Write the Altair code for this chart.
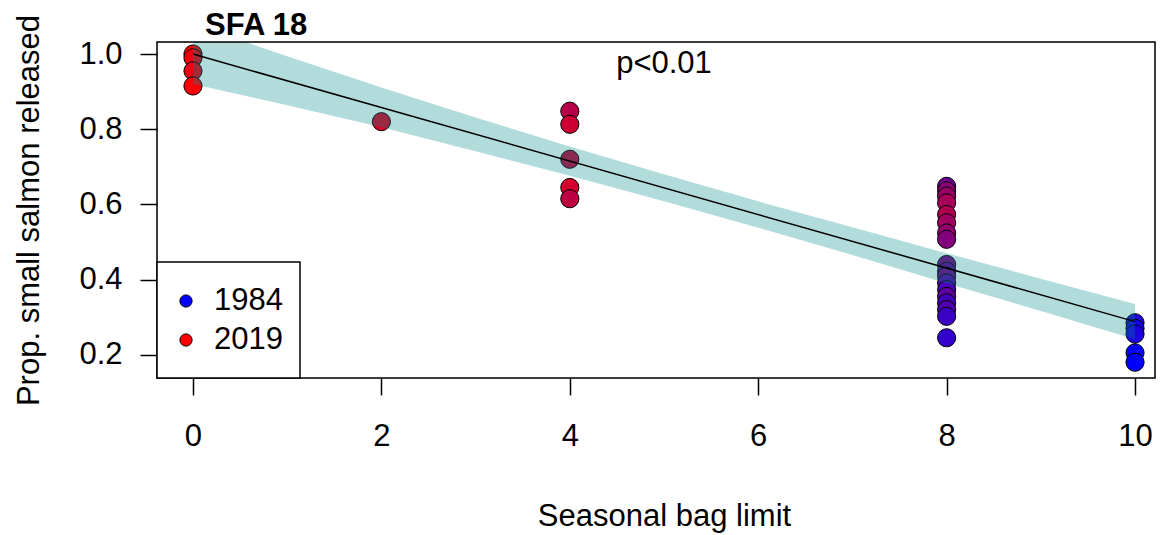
import altair as alt
import pandas as pd

# ---- data ----
bag_limit = [0, 0, 0, 0,
             2,
             4, 4, 4, 4, 4,
             8, 8, 8, 8, 8, 8, 8, 8,
             8, 8, 8, 8, 8, 8, 8, 8, 8,
             8,
             10, 10, 10, 10, 10]
prop_released = [1.0, 0.99, 0.955, 0.915,
                 0.82,
                 0.848, 0.813, 0.72, 0.645, 0.615,
                 0.648, 0.636, 0.622, 0.604, 0.573, 0.551, 0.524, 0.507,
                 0.44, 0.422, 0.409, 0.391, 0.373, 0.355, 0.338, 0.32, 0.302,
                 0.245,
                 0.285, 0.27, 0.255, 0.205, 0.18]
year = [2019, 2017, 2016, 2018,
        2014,
        2009, 2012, 2011, 2013, 2010,
        1999, 2003, 2005, 2007, 2008, 2006, 2004, 2002,
        2001, 1998, 2000, 1996, 1994, 1997, 1993, 1995, 1992,
        1991,
        1989, 1987, 1988, 1985, 1984]

fit_x = [0, 10]
fit_y = [1.0, 0.288]

band_x = [0, 1, 2, 3, 4, 5, 6, 7, 8, 9, 10]
band_lo = [0.92, 0.864, 0.805, 0.741, 0.676, 0.608, 0.538, 0.465, 0.390, 0.316, 0.241]
band_hi = [1.08, 0.994, 0.911, 0.831, 0.754, 0.680, 0.608, 0.539, 0.470, 0.402, 0.335]

x_ticks = [0, 2, 4, 6, 8, 10]
y_ticks = [0.2, 0.4, 0.6, 0.8, 1.0]
legend_years = [1984, 2019]
panel_title = "SFA 18"
p_label = "p<0.01"
p_label_x = [5.0]
p_label_y = [0.973]

FONT = "Liberation Sans"
FS = 31
W, H = 998, 336

pts = pd.DataFrame({"bag": bag_limit, "prop": prop_released, "year": year})
band = pd.DataFrame({"bag": band_x, "lo": band_lo, "hi": band_hi})
fit = pd.DataFrame({"bag": fit_x, "prop": fit_y})
ptxt = pd.DataFrame({"bag": p_label_x, "prop": p_label_y, "t": [p_label]})

xscale = alt.Scale(domain=[-0.382, 10.212], nice=False, zero=False)
yscale = alt.Scale(domain=[0.138, 1.032], nice=False, zero=False)
cscale = alt.Scale(domain=[1984, 2019], range=["#0000FF", "#FF0000"], interpolate="rgb")

xaxis = alt.Axis(values=x_ticks, format="d", grid=False, domain=False,
                 tickSize=17, tickWidth=1.5, tickColor="black",
                 labelFontSize=FS, labelFont=FONT, labelColor="black",
                 labelBaseline="middle", labelPadding=41, labelFlush=False,
                 title="Seasonal bag limit", titleFont=FONT, titleFontSize=FS,
                 titleFontWeight="normal", titleColor="black",
                 titleX=507, titleY=138, titleBaseline="middle", titleAlign="center")
yaxis = alt.Axis(values=y_ticks, format=".1f", grid=False, domain=False,
                 tickSize=17, tickWidth=1.5, tickColor="black",
                 labelFontSize=FS, labelFont=FONT, labelColor="black",
                 labelPadding=18, labelFlush=False,
                 title="Prop. small salmon released", titleFont=FONT, titleFontSize=FS,
                 titleFontWeight="normal", titleColor="black",
                 titleX=-128, titleY=168, titleAngle=270,
                 titleBaseline="middle", titleAlign="center")

points = alt.Chart(pts).mark_circle(size=330, stroke="black", strokeWidth=1, opacity=1).encode(
    x=alt.X("bag:Q", scale=xscale, axis=xaxis),
    y=alt.Y("prop:Q", scale=yscale, axis=yaxis),
    color=alt.Color("year:Q", scale=cscale, legend=None),
)

band_layer = alt.Chart(band).mark_area(color="darkcyan", opacity=0.3, clip=True).encode(
    x=alt.X("bag:Q", scale=xscale),
    y=alt.Y("lo:Q", scale=yscale),
    y2="hi:Q",
)

line = alt.Chart(fit).mark_line(color="black", strokeWidth=1.5).encode(
    x=alt.X("bag:Q", scale=xscale),
    y=alt.Y("prop:Q", scale=yscale),
)

p_text = alt.Chart(ptxt).mark_text(font=FONT, fontSize=FS, color="black",
                                   align="center", baseline="middle").encode(
    x=alt.X("bag:Q", scale=xscale),
    y=alt.Y("prop:Q", scale=yscale),
    text="t:N",
)

title_df = pd.DataFrame({"t": [panel_title]})
title_layer = alt.Chart(title_df).mark_text(font=FONT, fontSize=FS, fontWeight="bold",
                                            color="black", align="left",
                                            baseline="alphabetic").encode(
    x=alt.value(48), y=alt.value(-7), text="t:N")

frame = alt.Chart(title_df).mark_rect(filled=False, stroke="black", strokeWidth=1.5).encode(
    x=alt.value(0), x2=alt.value(W), y=alt.value(0), y2=alt.value(H))

legend_box = alt.Chart(title_df).mark_rect(fill="white", stroke="black", strokeWidth=1.5).encode(
    x=alt.value(0), x2=alt.value(143), y=alt.value(220), y2=alt.value(H))

legend_layers = []
for i, yr in enumerate(legend_years):
    ldf = pd.DataFrame({"year": [yr], "lab": [str(yr)]})
    yy = 259 + i * 39
    legend_layers.append(
        alt.Chart(ldf).mark_circle(size=150, stroke="black", strokeWidth=1, opacity=1).encode(
            x=alt.value(29), y=alt.value(yy),
            color=alt.Color("year:Q", scale=cscale, legend=None)))
    legend_layers.append(
        alt.Chart(ldf).mark_text(font=FONT, fontSize=FS, color="black",
                                 align="left", baseline="middle").encode(
            x=alt.value(57), y=alt.value(yy), text="lab:N"))

chart = alt.layer(points, band_layer, line, p_text, title_layer, frame, legend_box,
                  *legend_layers).properties(
    width=W, height=H,
    autosize=alt.AutoSizeParams(type="none"),
    padding={"left": 157, "top": 42, "right": 13, "bottom": 157},
).configure_view(stroke=None).configure(background="white")

chart.save("out.html", embed_options={"renderer": "svg", "actions": False})
